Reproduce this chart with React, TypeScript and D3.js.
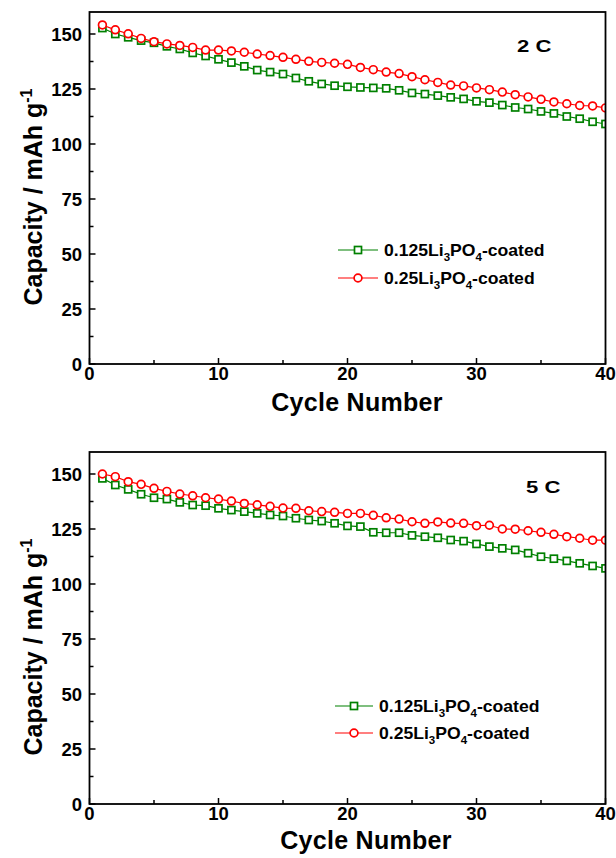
import React from "react";
import * as d3 from "d3";

const cycles = d3.range(1, 41);

const green2C = [152.7, 150.0, 148.5, 147.0, 146.0, 144.4, 143.2, 141.4, 140.0, 138.5, 137.0, 135.3, 133.6, 132.7, 131.8, 130.0, 128.5, 127.3, 126.5, 126.0,
  125.7, 125.5, 125.3, 124.4, 123.2, 122.7, 122.0, 121.2, 120.5, 119.4, 118.8, 117.7, 116.6, 115.9, 114.8, 113.9, 112.5, 111.5, 110.1, 109.1];
const red2C = [154.1, 151.9, 150.1, 148.0, 146.5, 145.5, 144.8, 143.9, 142.7, 142.7, 142.3, 141.7, 140.9, 140.2, 139.4, 138.5, 137.6, 137.1, 136.7, 136.2,
  134.8, 133.8, 132.7, 132.0, 130.6, 129.2, 128.0, 126.8, 126.4, 125.5, 124.7, 123.6, 122.4, 121.4, 120.3, 119.1, 118.3, 117.5, 117.3, 116.4];
const green5C = [148.0, 145.0, 143.0, 140.8, 139.2, 138.6, 137.1, 135.9, 135.6, 134.4, 133.6, 132.9, 132.1, 131.4, 130.9, 129.9, 129.1, 128.6, 127.6, 126.4,
  126.1, 123.5, 123.3, 123.3, 122.1, 121.5, 121.0, 120.0, 119.5, 118.2, 117.0, 116.2, 115.5, 114.0, 112.4, 111.5, 110.5, 109.4, 108.2, 107.1];
const red5C = [150.0, 148.8, 146.5, 145.3, 143.5, 142.1, 140.9, 140.1, 139.2, 138.6, 137.7, 136.6, 136.0, 135.3, 134.5, 134.4, 133.3, 132.9, 132.6, 132.1,
  132.1, 131.2, 130.1, 129.5, 128.3, 127.6, 128.2, 127.7, 127.6, 126.5, 126.7, 125.0, 124.9, 124.2, 123.5, 122.6, 121.5, 120.8, 119.9, 119.9];

const yTicks = [0, 25, 50, 75, 100, 125, 150];
const yMinor = [12.5, 37.5, 62.5, 87.5, 112.5, 137.5];
const xTicks = [0, 10, 20, 30, 40];
const xMinor = [5, 15, 25, 35];
const rateLabels = ["2 C", "5 C"];
const seriesNames = ["0.125", "0.25"];

const GREEN = "#008000";
const RED = "#ff0000";
const FONT = "'Liberation Sans', Arial, Helvetica, sans-serif";

const X0 = 89.5, X1 = 605.5;

const panels = [
  { top: 12, bottom: 364, green: green2C, red: red2C, label: rateLabels[0], lx: 517, ly: 52,
    legX0: 338, legX1: 378, legM: 358, legT: 384, legY: [250, 278], xtX: 357, xtY: 411, ytY: 197 },
  { top: 452, bottom: 804, green: green5C, red: red5C, label: rateLabels[1], lx: 526, ly: 493,
    legX0: 335, legX1: 373, legM: 354, legT: 379, legY: [706, 733], xtX: 366, xtY: 849, ytY: 647 },
];

function Panel({ p, idx }: { p: any; idx: number }) {
  const x = d3.scaleLinear().domain([0, 40]).range([X0, X1]);
  const y = d3.scaleLinear().domain([0, 160]).range([p.bottom, p.top]);
  const line = d3.line<number>().x((_, i) => x(cycles[i])).y((d) => y(d));
  const clipId = `clip${idx}`;
  const sq = 7;
  const legendText = (name: string, ty: number) => (
    <g transform={`translate(${p.legT},${ty + 5.5}) scale(1.1,1)`}>
      <text fontFamily={FONT} fontWeight="bold" fontSize={16} fill="#000">
        {name}Li<tspan fontSize={10.5} dy={5}>3</tspan>
        <tspan dy={-5}>PO</tspan>
        <tspan fontSize={10.5} dy={5}>4</tspan>
        <tspan dy={-5}>-coated</tspan>
      </text>
    </g>
  );
  return (
    <g>
      <defs>
        <clipPath id={clipId}>
          <rect x={X0} y={p.top} width={X1 - X0} height={p.bottom - p.top} />
        </clipPath>
      </defs>
      <g clipPath={`url(#${clipId})`}>
        <path d={line(p.green) || ""} fill="none" stroke={GREEN} strokeWidth={1.2} />
        {p.green.map((v: number, i: number) => (
          <rect key={"g" + i} x={x(cycles[i]) - sq / 2} y={y(v) - sq / 2} width={sq} height={sq}
            fill="#fff" stroke={GREEN} strokeWidth={1.7} />
        ))}
        <path d={line(p.red) || ""} fill="none" stroke={RED} strokeWidth={1.2} />
        {p.red.map((v: number, i: number) => (
          <circle key={"r" + i} cx={x(cycles[i])} cy={y(v)} r={3.9}
            fill="#fff" stroke={RED} strokeWidth={1.7} />
        ))}
      </g>
      <rect x={X0} y={p.top} width={X1 - X0} height={p.bottom - p.top} fill="none" stroke="#000" strokeWidth={1.8} />
      {yTicks.map((t) => (
        <g key={"yt" + t}>
          <line x1={X0} x2={X0 + 6} y1={y(t)} y2={y(t)} stroke="#000" strokeWidth={1.5} />
          <text x={82} y={y(t)} dy="0.36em" textAnchor="end" fontFamily={FONT} fontWeight="bold" fontSize={18.5}>{t}</text>
        </g>
      ))}
      {yMinor.map((t) => (
        <line key={"ym" + t} x1={X0} x2={X0 + 4} y1={y(t)} y2={y(t)} stroke="#000" strokeWidth={1.5} />
      ))}
      {xTicks.map((t) => (
        <g key={"xt" + t}>
          <line x1={x(t)} x2={x(t)} y1={p.bottom} y2={p.bottom - 6} stroke="#000" strokeWidth={1.5} />
          <text x={x(t)} y={p.bottom + 16} textAnchor="middle" fontFamily={FONT} fontWeight="bold" fontSize={18.5}>{t}</text>
        </g>
      ))}
      {xMinor.map((t) => (
        <line key={"xm" + t} x1={x(t)} x2={x(t)} y1={p.bottom} y2={p.bottom - 4} stroke="#000" strokeWidth={1.5} />
      ))}
      <text x={p.xtX} y={p.xtY} textAnchor="middle" fontFamily={FONT} fontWeight="bold" fontSize={25} letterSpacing={0.3}>Cycle Number</text>
      <text transform={`translate(42,${p.ytY}) rotate(-90)`} textAnchor="middle" fontFamily={FONT} fontWeight="bold" fontSize={25}>
        Capacity / mAh g<tspan fontSize={16} dy={-10}>-1</tspan>
      </text>
      <g transform={`translate(${p.lx},${p.ly}) scale(1.3,1)`}>
        <text fontFamily={FONT} fontWeight="bold" fontSize={17}>{p.label}</text>
      </g>
      <line x1={p.legX0} x2={p.legX1} y1={p.legY[0]} y2={p.legY[0]} stroke={GREEN} strokeWidth={1.2} />
      <rect x={p.legM - sq / 2} y={p.legY[0] - sq / 2} width={sq} height={sq} fill="#fff" stroke={GREEN} strokeWidth={1.7} />
      {legendText(seriesNames[0], p.legY[0])}
      <line x1={p.legX0} x2={p.legX1} y1={p.legY[1]} y2={p.legY[1]} stroke={RED} strokeWidth={1.2} />
      <circle cx={p.legM} cy={p.legY[1]} r={3.9} fill="#fff" stroke={RED} strokeWidth={1.7} />
      {legendText(seriesNames[1], p.legY[1])}
    </g>
  );
}

export default function App() {
  return (
    <svg width={616} height={858} style={{ position: "absolute", left: 0, top: 0, background: "#fff" }}>
      <rect width={616} height={858} fill="#fff" />
      {panels.map((p, i) => (
        <Panel key={i} p={p} idx={i} />
      ))}
    </svg>
  );
}
